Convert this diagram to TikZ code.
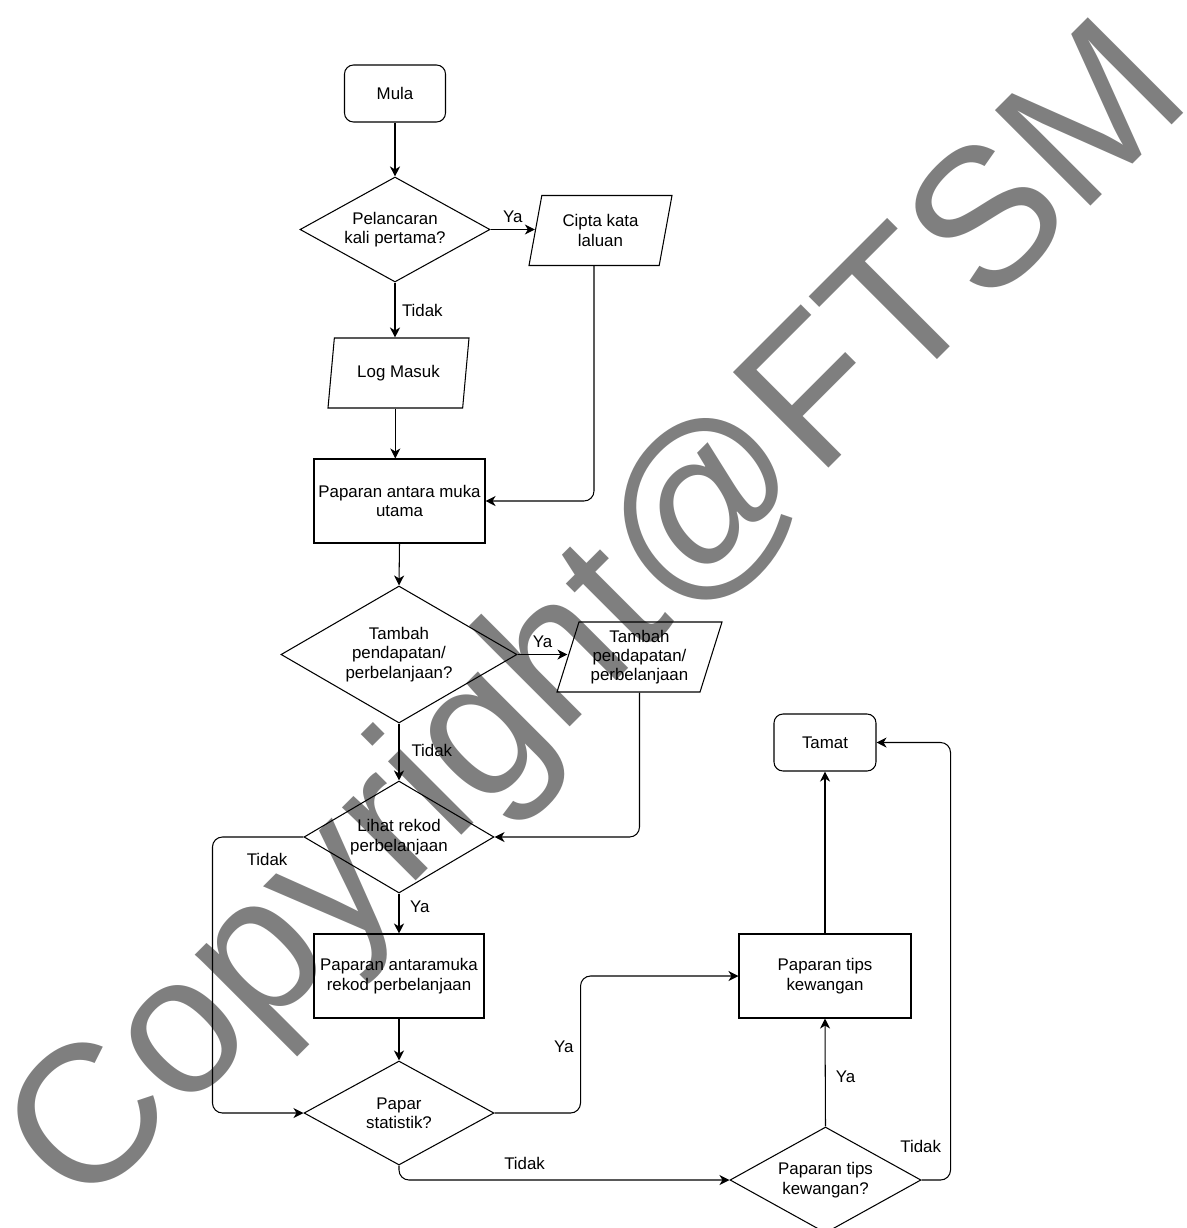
\documentclass[tikz,border=0pt]{standalone}
\usepackage{fontspec}
\setmainfont{Liberation Sans}
\usetikzlibrary{shapes.geometric,arrows.meta}

\newcommand{\flowfont}{\fontsize{9.6}{11}\selectfont}

\tikzset{
  box/.style={draw, line width=0.6pt, minimum width=34.2mm, minimum height=16.8mm, inner sep=0pt, align=center, font=\flowfont},
  term/.style={box, rounded corners=1.8mm, minimum width=20.2mm, minimum height=11.4mm},
  decide/.style={draw, diamond, aspect=1.7, line width=0.6pt, inner sep=0pt, align=center, font=\flowfont},
  io/.style={draw, trapezium, trapezium left angle=68, trapezium right angle=112, trapezium stretches body,
    line width=0.6pt, inner sep=0pt, minimum height=14mm, align=center, font=\flowfont},
  flow/.style={-{Stealth[length=2mm,width=2mm,inset=0.6mm]}, line width=0.6pt, rounded corners=2mm},
  lbl/.style={font=\flowfont, inner sep=1.3mm},
  watermark/.style={anchor=base west, rotate=45, inner sep=0pt, text=black, text opacity=0.5,
    font=\fontsize{111.7}{120}\selectfont},
}

\begin{document}
\begin{tikzpicture}[x=0.2mm,y=-0.2mm]
\clip (0,0) rectangle (1187,1228);
\fill[white] (0,0) rectangle (1187,1228); %page

% main column
\node[term] (mula) at (395,93.5) {Mula};
\node[decide, minimum width=38mm, minimum height=21mm] (kali) at (395,229.5) {Pelancaran\\kali pertama?};
\node[io, minimum width=28.6mm] (cipta) at (600.5,230.5) {Cipta kata\\laluan};
\node[io, minimum width=28.2mm] (log) at (398.5,373) {Log Masuk};
\node[box] (utama) at (399.5,501) {Paparan antara muka\\utama};
\node[decide, minimum width=47.2mm, minimum height=27.4mm] (tambah) at (399,654.5) {Tambah\\pendapatan/\\perbelanjaan?};
\node[io, minimum width=33mm] (rekodbaru) at (639.5,657) {Tambah\\pendapatan/\\perbelanjaan};
\node[decide, minimum width=38mm, minimum height=22.4mm] (lihat) at (399,837) {Lihat rekod\\perbelanjaan};
\node[box, minimum width=34mm] (rekod) at (399,976) {Paparan antaramuka\\rekod perbelanjaan};
\node[decide, minimum width=38mm, minimum height=20.8mm] (statistik) at (399,1113) {Papar\\statistik?};

% right column
\node[decide, minimum width=38.2mm, minimum height=21.2mm] (tipsq) at (825.5,1180) {Paparan tips\\kewangan?};
\node[box, minimum width=34.4mm] (tips) at (825,976) {Paparan tips\\kewangan};
\node[term, minimum width=20.4mm] (tamat) at (825,742.5) {Tamat};

% connectors
\draw[flow] (mula) -- (kali);
\draw[flow] (kali.east) -- node[lbl, above] {Ya} (kali.east -| cipta.left side);
\draw[flow] (kali.south) -- node[lbl, right] {Tidak} (kali.south |- log.top side);
\draw[flow] (log.bottom side) -- (log.bottom side |- utama.north);
\draw[flow] (cipta.bottom side) |- (utama.east);
\draw[flow] (utama.south) -- (tambah.north);
\draw[flow] (tambah.east) -- node[lbl, above] {Ya} (tambah.east -| rekodbaru.left side);
\draw[flow] (tambah.south) -- node[lbl, right=1.1mm, pos=0.47] {Tidak} (lihat.north);
\draw[flow] (rekodbaru.center |- rekodbaru.bottom side) |- (lihat.east);
\draw[flow] (lihat.west) -- node[lbl, below=1.9mm, pos=0.4] {Tidak} ++(-91,0) |- (statistik.west);
\draw[flow] (lihat.south) -- node[lbl, right=0.8mm, pos=0.34] {Ya} (rekod.north);
\draw[flow] (rekod.south) -- (statistik.north);
\draw[flow] (statistik.east) -- ++(86,0) |- node[lbl, left, pos=0.24] {Ya} (tips.west);
\draw[flow] (statistik.south) |- node[lbl, above=0.7mm, pos=0.69] {Tidak} (tipsq.west);
\draw[flow] (tipsq.north) -- node[lbl, right=0.7mm, pos=0.46] {Ya} (tips.south);
\draw[flow] (tips.north) -- (tamat.south);
\draw[flow] (tipsq.east) -- ++(29,0) |- node[lbl, left=0.5mm, pos=0.038] {Tidak} (tamat.east);

% overlay text
\node[watermark] (wm) at (82,1215) {Copyright@FTSM};

\end{tikzpicture}
\end{document}
